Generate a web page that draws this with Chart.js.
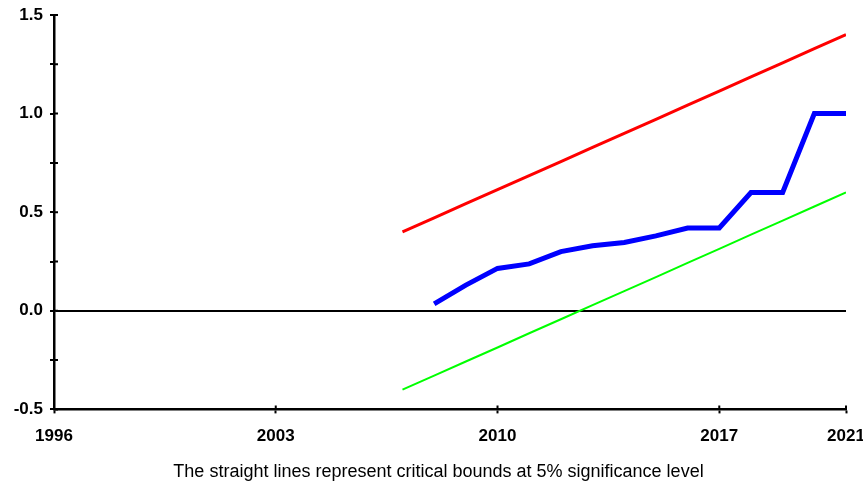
<!DOCTYPE html>
<html>
<head>
<meta charset="utf-8">
<script src="https://cdn.jsdelivr.net/npm/chart.js@4.4.1/dist/chart.umd.min.js"></script>
<style>
  html, body { margin: 0; padding: 0; background: #fff; }
  #wrap { width: 863px; height: 483px; }
</style>
</head>
<body>
<div id="wrap"><canvas id="cusum"></canvas></div>
<script>
// years on the x axis
const boundYears = [2007, 2008, 2009, 2010, 2011, 2012, 2013, 2014, 2015, 2016, 2017, 2018, 2019, 2020, 2021];
const statYears = [2008, 2009, 2010, 2011, 2012, 2013, 2014, 2015, 2016, 2017, 2018, 2019, 2020, 2021];

// cusum of squares and the 5% bounds
const cusumSq = [0.035, 0.13, 0.215, 0.238, 0.30, 0.33, 0.346, 0.38, 0.42, 0.42, 0.60, 0.60, 1.00, 1.00];
const upperBound = [0.40, 0.471, 0.543, 0.614, 0.686, 0.757, 0.829, 0.90, 0.971, 1.043, 1.114, 1.186, 1.257, 1.329, 1.40];
const lowerBound = [-0.40, -0.329, -0.257, -0.186, -0.114, -0.043, 0.029, 0.10, 0.171, 0.243, 0.314, 0.386, 0.457, 0.529, 0.60];

// tick labels
const xTicks = [1996, 2003, 2010, 2017, 2021];
const yMin = -0.5, yMax = 1.5, yStep = 0.25;

const caption = 'The straight lines represent critical bounds at 5% significance level';

function pairs(xs, ys) {
    return xs.map(function(x, i){ return { x: x, y: ys[i] }; });
}

// small marks on the inner side of both axes
const innerTicks = {
    id: 'innerTicks',
    afterLayout: function(chart) {
        // let the y labels use the left margin (labels are clipped to the scale box)
        chart.scales.y.left = 0;
    },
    afterDraw: function(chart) {
        const c = chart.ctx, a = chart.chartArea;
        const xs = chart.scales.x, ys = chart.scales.y;
        c.save();
        c.strokeStyle = '#000';
        c.lineWidth = 2;
        c.beginPath();
        ys.ticks.forEach(function(t){
            const py = ys.getPixelForValue(t.value);
            c.moveTo(a.left, py);
            c.lineTo(a.left + 4, py);
        });
        xs.ticks.forEach(function(t){
            const px = xs.getPixelForValue(t.value);
            c.moveTo(px, a.bottom);
            c.lineTo(px, a.bottom - 4);
        });
        c.stroke();
        c.restore();
    }
};

const tickFont = { family: '"Liberation Sans", Arial, sans-serif', size: 17, weight: 'bold' };

new Chart(document.getElementById('cusum'), {
    type: 'line',
    data: {
        datasets: [
            { data: pairs(boundYears, upperBound), borderColor: '#ff0000', borderWidth: 3 },
            { data: pairs(statYears, cusumSq), borderColor: '#0000ff', borderWidth: 5 },
            { data: pairs(boundYears, lowerBound), borderColor: '#00ff00', borderWidth: 2 }
        ]
    },
    options: {
        responsive: true,
        maintainAspectRatio: false,
        animation: false,
        elements: { point: { radius: 0 }, line: { tension: 0, borderCapStyle: 'butt' } },
        layout: { padding: { left: 31, right: 17, top: 15, bottom: 0 } },
        plugins: {
            legend: { display: false },
            tooltip: { enabled: false },
            title: {
                display: true,
                position: 'bottom',
                text: caption,
                color: '#000',
                font: { family: '"Liberation Sans", Arial, sans-serif', size: 18, weight: 'normal' },
                padding: { top: 0, bottom: 0 }
            }
        },
        scales: {
            x: {
                type: 'linear',
                min: 1996,
                max: 2021,
                afterBuildTicks: function(scale){
                    scale.ticks = xTicks.map(function(v){ return { value: v }; });
                },
                afterFit: function(scale){
                    scale.height = 52;
                    scale.paddingLeft = 0;
                    scale.paddingRight = 0;
                },
                border: { display: true, color: '#000', width: 2.5 },
                grid: { drawOnChartArea: false, drawTicks: true, tickLength: 4, tickWidth: 2, tickColor: '#000' },
                ticks: {
                    color: '#000',
                    font: tickFont,
                    padding: 13,
                    maxRotation: 0,
                    autoSkip: false,
                    callback: function(v){ return String(v); }
                }
            },
            y: {
                min: yMin,
                max: yMax,
                afterFit: function(scale){
                    scale.width = 23;
                    scale.paddingTop = 0;
                    scale.paddingBottom = 0;
                },
                border: { display: true, color: '#000', width: 2.5 },
                grid: {
                    drawOnChartArea: true,
                    drawTicks: true,
                    tickLength: 4,
                    tickWidth: 2,
                    tickColor: '#000',
                    lineWidth: 2,
                    color: function(ctx){ return ctx.tick && ctx.tick.value === 0 ? '#000' : 'rgba(0,0,0,0)'; }
                },
                ticks: {
                    stepSize: yStep,
                    color: '#000',
                    font: tickFont,
                    padding: 7,
                    autoSkip: false,
                    callback: function(v){
                        return Math.abs(v * 2 - Math.round(v * 2)) < 1e-9 ? v.toFixed(1) : '';
                    }
                }
            }
        }
    },
    plugins: [innerTicks]
});
</script>
</body>
</html>
